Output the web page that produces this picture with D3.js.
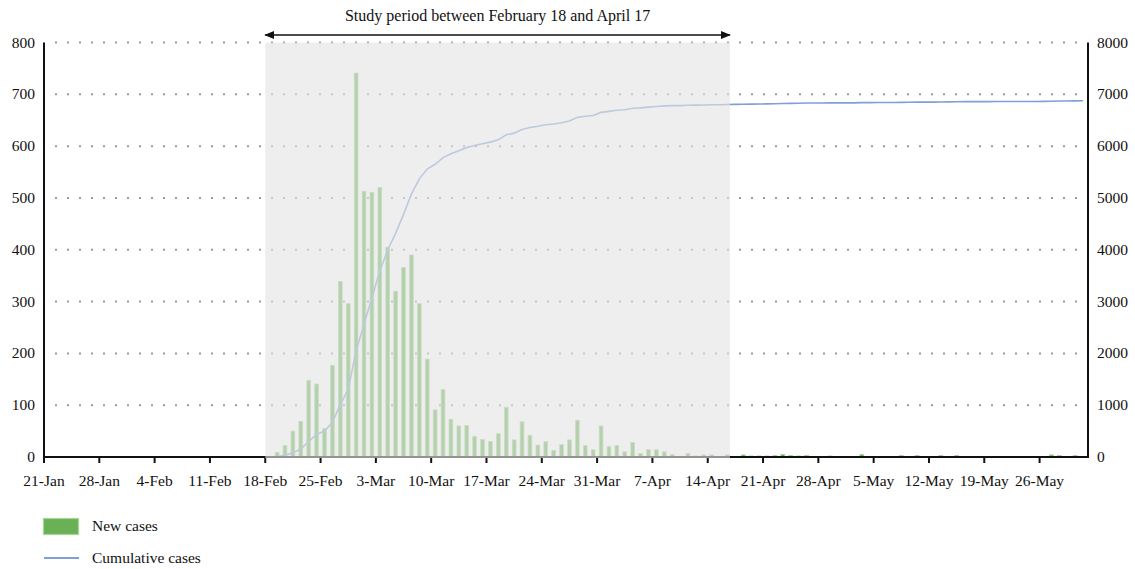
<!DOCTYPE html>
<html>
<head>
<meta charset="utf-8">
<script src="https://cdn.jsdelivr.net/npm/d3@7"></script>
<style>
  body { margin: 0; background: #fff; }
  svg { display: block; font-family: "Liberation Serif", "DejaVu Serif", serif; }
</style>
</head>
<body>
<svg width="1135" height="569"></svg>
<script>

// daily values, 21-Jan to 31-May
const primeiro_dia = new Date(2020, 0, 21);
const ultimo_dia = new Date(2020, 5, 1);

const newCases = [
  0,0,0,0,0,0,0,0,0,0, 0,0,0,0,0,0,0,0,0,0, 0,0,0,0,0,0,0,0,
  // 18-Feb ..
  1,9,22,50,69,148,141,55,177,339,296,741,
  // 1-Mar ..
  513,511,520,405,320,366,390,296,189,91,
  130,73,60,61,40,34,30,45,96,33,
  68,42,23,30,13,24,33,71,22,14,60,
  // 1-Apr ..
  20,22,10,28,7,14,14,10,5,1,7,2,4,4,1,4,1,
  4,2,2,2,3,5,3,2,3,0,1,2,0,
  // 1-May ..
  1,0,5,0,1,0,1,3,1,3,1,0,3,1,3,1,0,1,0,1,0,1,0,1,0,1,4,3,1,3,1
];

const cumulativeCases = [
  0,0,0,0,0,0,0,0,0,0, 0,0,0,0,0,0,0,0,0,0, 0,0,0,0,0,0,0,0,
  1,10,32,82,151,299,440,495,672,1011,1307,2048,
  2561,3072,3592,3997,4317,4683,5073,5369,5558,5649,
  5779,5852,5912,5973,6013,6047,6077,6122,6218,6251,
  6319,6361,6384,6414,6427,6451,6484,6555,6577,6591,6651,
  6671,6693,6703,6731,6738,6752,6766,6776,6781,6782,6789,6791,6795,6799,6800,6804,6805,
  6809,6811,6813,6815,6818,6823,6826,6828,6831,6831,6832,6834,6834,
  6835,6835,6840,6840,6841,6841,6842,6845,6846,6849,6850,6850,6853,6854,6857,6858,
  6858,6859,6859,6860,6860,6861,6861,6862,6862,6863,6867,6870,6871,6874,6875
];

const leftTicks = [0, 100, 200, 300, 400, 500, 600, 700, 800];
const rightTicks = [0, 1000, 2000, 3000, 4000, 5000, 6000, 7000, 8000];
const xTickLabels = ["21-Jan","28-Jan","4-Feb","11-Feb","18-Feb","25-Feb","3-Mar","10-Mar","17-Mar",
  "24-Mar","31-Mar","7-Apr","14-Apr","21-Apr","28-Apr","5-May","12-May","19-May","26-May"];

const studyStart = new Date(2020, 1, 18);
const studyEnd = new Date(2020, 3, 17);
const studyLabel = "Study period between February 18 and April 17";
const legendLabels = ["New cases", "Cumulative cases"];

const vis = {

  dims : { left: 44, right: 1087, top: 42.5, bottom: 457 },

  fonte : { eixo: 15.5, titulo: 16, legenda: 15.5 },

  cores : {
    barra: "#6ab155",
    borda: "#a6d597",
    linha: "#7f9fd6",
    grade: "#9a9a9a",
    sombra: "rgba(228,228,228,0.62)"
  },

  svg : d3.select("svg"),

  dias : d3.timeDay.range(primeiro_dia, ultimo_dia),

  escalas : {},

  monta_escalas : function() {

    const d = vis.dims;

    this.escalas.x = d3.scaleBand()
      .domain(vis.dias.map(t => +t))
      .range([d.left, d.right])
      .padding(0);

    this.escalas.y = d3.scaleLinear().domain([0, 800]).range([d.bottom, d.top]);
    this.escalas.y2 = d3.scaleLinear().domain([0, 8000]).range([d.bottom, d.top]);

  },

  desenha_grade : function() {

    const y = this.escalas.y;

    this.svg.append("g")
      .selectAll("line")
      .data(leftTicks.filter(v => v > 0))
      .join("line")
      .attr("x1", vis.dims.left + 11)
      .attr("x2", vis.dims.right - 6)
      .attr("y1", v => y(v))
      .attr("y2", v => y(v))
      .attr("stroke", this.cores.grade)
      .attr("stroke-width", 2)
      .attr("stroke-dasharray", "2,10");

  },

  desenha_barras_e_linha : function() {

    const x = this.escalas.x, y = this.escalas.y, y2 = this.escalas.y2;
    const bw = x.bandwidth() * 0.48;
    const dados = vis.dias.map((t, i) => ({ t: +t, novos: newCases[i], acum: cumulativeCases[i] }));

    this.svg.append("g")
      .selectAll("rect")
      .data(dados.filter(d => d.novos > 0))
      .join("rect")
      .attr("x", d => x(d.t) + (x.bandwidth() - bw) / 2)
      .attr("y", d => y(d.novos))
      .attr("width", bw)
      .attr("height", d => y(0) - y(d.novos))
      .attr("fill", this.cores.barra)
      .attr("stroke", this.cores.borda)
      .attr("stroke-width", 0.8);

    const linha = d3.line()
      .x(d => x(d.t) + x.bandwidth() / 2)
      .y(d => y2(d.acum));

    this.svg.append("path")
      .datum(dados)
      .attr("d", linha)
      .attr("fill", "none")
      .attr("stroke", this.cores.linha)
      .attr("stroke-width", 1.6);

  },

  desenha_eixos : function() {

    const x = this.escalas.x, y = this.escalas.y, y2 = this.escalas.y2;
    const d = vis.dims;

    // bottom axis, a tick every 7 days
    const semanas = vis.dias.filter((t, i) => i % 7 === 0);

    const eixo_x = this.svg.append("g");

    eixo_x.append("line")
      .attr("x1", d.left).attr("x2", d.right + 1)
      .attr("y1", d.bottom).attr("y2", d.bottom)
      .attr("stroke", "#111").attr("stroke-width", 2);

    eixo_x.selectAll("line.tick")
      .data(semanas)
      .join("line")
      .attr("class", "tick")
      .attr("x1", t => x(+t)).attr("x2", t => x(+t))
      .attr("y1", d.bottom).attr("y2", d.bottom + 6)
      .attr("stroke", "#111").attr("stroke-width", 2);

    this.svg.append("g")
      .selectAll("text")
      .data(semanas)
      .join("text")
      .attr("x", t => x(+t))
      .attr("y", d.bottom + 29)
      .attr("text-anchor", "middle")
      .attr("font-size", vis.fonte.eixo)
      .attr("fill", "#111")
      .text((t, i) => xTickLabels[i]);

    // vertical axes
    [[d.left, y, leftTicks, "end", -9], [d.right + 1, y2, rightTicks, "start", 9]].forEach(([px, esc, ticks, anchor, dx]) => {

      this.svg.append("line")
        .attr("x1", px).attr("x2", px)
        .attr("y1", d.top).attr("y2", d.bottom + 1)
        .attr("stroke", "#111").attr("stroke-width", 2);

      this.svg.append("g")
        .selectAll("text")
        .data(ticks)
        .join("text")
        .attr("x", px + dx)
        .attr("y", v => esc(v) + 5)
        .attr("text-anchor", anchor)
        .attr("font-size", vis.fonte.eixo)
        .attr("fill", "#111")
        .text(v => v);

    });

  },

  desenha_periodo : function() {

    const x = this.escalas.x;
    const d = vis.dims;
    const x0 = x(+studyStart), x1 = x(+studyEnd) - 1.5;

    // translucent overlay over bars, line and axis
    this.svg.append("rect")
      .attr("x", x0)
      .attr("y", d.top)
      .attr("width", x1 - x0)
      .attr("height", d.bottom - d.top + 1)
      .attr("fill", this.cores.sombra);

    const defs = this.svg.append("defs");
    defs.append("marker")
      .attr("id", "seta")
      .attr("viewBox", "0 0 10 10")
      .attr("refX", 9).attr("refY", 5)
      .attr("markerWidth", 10).attr("markerHeight", 10)
      .attr("markerUnits", "userSpaceOnUse")
      .attr("orient", "auto-start-reverse")
      .append("path")
      .attr("d", "M0,1 L10,5 L0,9 Z")
      .attr("fill", "#111");

    this.svg.append("line")
      .attr("x1", x0).attr("x2", x1)
      .attr("y1", 35).attr("y2", 35)
      .attr("stroke", "#111").attr("stroke-width", 1.6)
      .attr("marker-start", "url(#seta)")
      .attr("marker-end", "url(#seta)");

    this.svg.append("text")
      .attr("x", (x0 + x1) / 2)
      .attr("y", 21)
      .attr("text-anchor", "middle")
      .attr("font-size", vis.fonte.titulo)
      .attr("fill", "#111")
      .text(studyLabel);

  },

  desenha_legenda : function() {

    const g = this.svg.append("g");

    g.append("rect")
      .attr("x", 43.5).attr("y", 518.5)
      .attr("width", 35).attr("height", 16)
      .attr("fill", this.cores.barra)
      .attr("stroke", this.cores.borda)
      .attr("stroke-width", 1.2);

    g.append("line")
      .attr("x1", 44).attr("x2", 79)
      .attr("y1", 558).attr("y2", 558)
      .attr("stroke", this.cores.linha)
      .attr("stroke-width", 2);

    g.selectAll("text")
      .data(legendLabels)
      .join("text")
      .attr("x", 92)
      .attr("y", (t, i) => 531 + i * 32)
      .attr("font-size", vis.fonte.legenda)
      .attr("fill", "#111")
      .text(t => t);

  },

  init : function() {

    this.monta_escalas();
    this.desenha_grade();
    this.desenha_barras_e_linha();
    this.desenha_eixos();
    this.desenha_periodo();
    this.desenha_legenda();

  }

};

vis.init();
</script>
</body>
</html>
